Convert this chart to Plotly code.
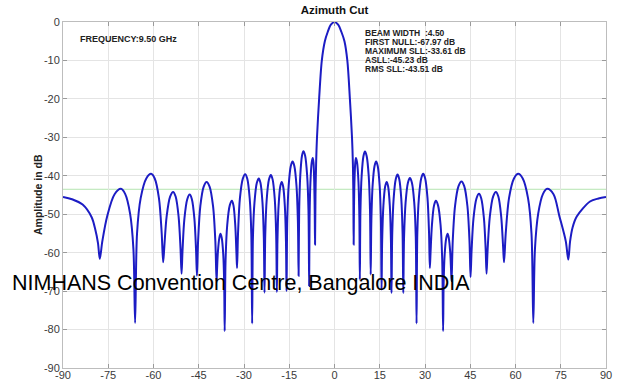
import plotly.graph_objects as go

# ---- data ----
angle_deg = [
    -90, -87, -83.5, -80.5, -79.3, -78.4, -77.8,
    -76.96, -75.35, -72.9, -70.8, -69.4, -67.75, -66.66, -66.1,
    -65.46, -64.25, -62.39, -60.8, -59.6, -58.2, -57.28, -56.8,
    -56.4, -55.65, -54.49, -53.5, -52.66, -51.68, -51.04, -50.7,
    -50.38, -49.76, -48.81, -48.0, -47.28, -46.44, -45.89, -45.6,
    -45.22, -44.48, -43.36, -42.4, -41.41, -40.26, -39.5, -39.1,
    -38.94, -38.65, -38.19, -37.8, -37.38, -36.89, -36.57, -36.4,
    -36.11, -35.56, -34.72, -34.0, -33.49, -32.9, -32.5, -32.3,
    -31.98, -31.36, -30.41, -29.6, -28.91, -28.11, -27.58, -27.3,
    -27.04, -26.53, -25.76, -25.1, -24.53, -23.87, -23.43, -23.2,
    -22.95, -22.47, -21.73, -21.1, -20.5, -19.8, -19.34, -19.1,
    -18.91, -18.54, -17.98, -17.5, -17.02, -16.46, -16.09, -15.9,
    -15.66, -15.2, -14.5, -13.9, -13.3, -12.6, -12.14, -11.9,
    -11.71, -11.34, -10.78, -10.3, -9.73, -9.07, -8.63, -8.4,
    -8.26, -7.98, -7.56, -7.2, -6.96, -6.72, -6.55, -6.45,
    -6.3, -6.1, -5.8, -5.1, -4.2, -3.2, -2.25, -1.2, 0.0,
    1.2, 2.3, 3.3, 4.25, 5.1, 5.8, 6.1, 6.25, 6.35,
    6.44, 6.61, 6.88, 7.1, 7.49, 7.95, 8.24, 8.4,
    8.6, 9.0, 9.59, 10.1, 10.67, 11.34, 11.77, 12.0,
    12.22, 12.63, 13.26, 13.8, 14.34, 14.97, 15.38, 15.6,
    15.8, 16.2, 16.79, 17.3, 17.78, 18.34, 18.71, 18.9,
    19.14, 19.6, 20.3, 20.9, 21.47, 22.14, 22.57, 22.8,
    23.06, 23.57, 24.34, 25.0, 25.66, 26.43, 26.94, 27.2,
    27.46, 27.97, 28.74, 29.4, 30.06, 30.83, 31.34, 31.6,
    31.84, 32.3, 33.0, 33.6, 34.32, 35.16, 35.71, 36.0,
    36.18, 36.53, 37.05, 37.5, 37.89, 38.35, 38.64, 38.8,
    39.2, 39.96, 41.11, 42.1, 43.0, 44.05, 44.74, 45.1,
    45.44, 46.08, 47.06, 47.9, 48.65, 49.53, 50.1, 50.4,
    50.77, 51.49, 52.57, 53.5, 54.31, 55.26, 55.88, 56.2,
    56.76, 57.85, 59.49, 60.9, 62.4, 64.15, 65.3, 65.9,
    66.45, 67.51, 69.12, 70.5, 72.6, 74.55, 76.66, 77.5,
    78.1, 78.9, 80.3, 84.7, 87.5, 90,
]
amplitude_db = [
    -45.5, -46.1, -47.5, -50.8, -54.0, -57.5, -61.6,
    -57.0, -50.5, -44.8, -43.4, -44.7, -49.9, -59.0, -78.3,
    -55.0, -45.8, -40.7, -39.5, -40.7, -45.8, -55.0, -62.5,
    -58.3, -50.6, -45.4, -44.2, -45.4, -50.6, -59.0, -65.5,
    -59.5, -51.2, -46.1, -44.9, -46.1, -51.2, -59.5, -66.0,
    -57.0, -47.9, -42.8, -41.6, -42.8, -47.9, -57.0, -67.4,
    -64.5, -59.8, -56.2, -55.1, -56.2, -60.3, -68.0, -80.4,
    -62.0, -52.8, -47.7, -46.5, -47.7, -52.8, -60.3, -64.0,
    -55.0, -45.9, -40.8, -39.6, -40.8, -45.9, -55.0, -78.4,
    -56.1, -47.0, -41.9, -40.7, -41.9, -47.0, -56.1, -70.4,
    -55.2, -46.1, -41.0, -39.8, -41.0, -46.1, -55.2, -70.2,
    -57.0, -47.9, -42.8, -41.6, -42.8, -47.9, -57.0, -70.0,
    -51.7, -42.6, -37.5, -36.3, -37.5, -42.6, -51.7, -66.0,
    -49.0, -39.9, -34.8, -33.6, -34.8, -39.9, -49.0, -68.7,
    -50.8, -41.7, -36.6, -35.4, -36.6, -41.7, -49.8, -57.9,
    -45.0, -37.0, -30.0, -20.0, -10.0, -5.0, -2.6, -0.7, 0.0,
    -0.7, -2.6, -5.0, -10.0, -20.0, -30.0, -37.0, -45.0, -57.9,
    -49.8, -41.7, -36.6, -35.4, -36.6, -41.7, -50.8, -67.0,
    -49.1, -40.0, -34.9, -33.7, -34.9, -40.0, -49.1, -65.7,
    -51.7, -42.6, -37.5, -36.3, -37.5, -42.6, -51.7, -69.6,
    -57.0, -47.9, -42.8, -41.6, -42.8, -47.9, -57.0, -70.5,
    -55.1, -46.0, -40.9, -39.7, -40.9, -46.0, -55.1, -70.5,
    -56.0, -46.9, -41.8, -40.6, -41.8, -46.9, -56.0, -78.4,
    -54.9, -45.8, -40.7, -39.5, -40.7, -45.8, -54.9, -64.0,
    -60.0, -52.8, -47.7, -46.5, -47.7, -52.8, -62.0, -80.4,
    -68.0, -60.3, -56.2, -55.1, -56.2, -59.8, -64.5, -67.4,
    -56.9, -47.8, -42.7, -41.5, -42.7, -47.8, -56.9, -66.3,
    -59.5, -51.0, -45.9, -44.7, -45.9, -51.0, -59.0, -65.5,
    -59.0, -50.6, -45.4, -44.2, -45.4, -50.6, -58.3, -62.5,
    -55.0, -45.8, -40.7, -39.5, -40.7, -45.8, -55.0, -78.3,
    -59.0, -49.9, -44.7, -43.4, -44.8, -50.5, -57.0, -61.8,
    -57.0, -53.5, -50.6, -46.7, -45.9, -45.5,
]
rms_sll_db = -43.51
x_ticks = [-90, -75, -60, -45, -30, -15, 0, 15, 30, 45, 60, 75, 90]
y_ticks = [0, -10, -20, -30, -40, -50, -60, -70, -80, -90]
info_lines = [
    "BEAM WIDTH\u00a0\u00a0:4.50",
    "FIRST NULL:-67.97 dB",
    "MAXIMUM SLL:-33.61 dB",
    "ASLL:-45.23 dB",
    "RMS SLL:-43.51 dB",
]

W, H = 621, 382
ML, MR, MT, MB = 63, 15, 22, 14
PW, PH = W - ML - MR, H - MT - MB
FONT = "Liberation Sans, Arial, sans-serif"


def px_x(px):
    return (px - ML) / PW


def px_y(py):
    return (H - MB - py) / PH


fig = go.Figure()
fig.add_trace(go.Scatter(
    x=angle_deg, y=amplitude_db, mode="lines",
    line=dict(color="#1c1cc4", width=2, shape="spline", smoothing=0.9),
    showlegend=False, hoverinfo="skip",
))

fig.add_shape(type="line", xref="paper", yref="y", x0=0, x1=1,
              y0=rms_sll_db, y1=rms_sll_db,
              line=dict(color="#b4e4b0", width=1), layer="below")

axis_common = dict(
    showgrid=True, gridcolor="#e4e4e4", gridwidth=1,
    showline=True, linecolor="#bdbdbd", linewidth=1, mirror="allticks",
    ticks="inside", ticklen=4, tickcolor="#9a9a9a",
    tickfont=dict(family=FONT, size=11, color="#3a3a3a"),
    zeroline=False, automargin=False,
)
fig.update_xaxes(range=[-90, 90], tickvals=x_ticks, ticklabelstandoff=-3,
                 ticktext=[str(v) for v in x_ticks], **axis_common)
fig.update_yaxes(range=[-90, 0], tickvals=y_ticks,
                 ticktext=[str(v) for v in y_ticks], **axis_common)

annotations = [
    dict(text="<b>FREQUENCY:9.50 GHz</b>", x=px_x(78), y=px_y(39),
         xanchor="left", yanchor="middle",
         font=dict(size=9, color="#222222")),
    dict(text="<b>Amplitude in dB</b>", x=px_x(38), y=px_y(195), textangle=-90,
         xanchor="center", yanchor="middle",
         font=dict(size=10.5, color="#222222")),
    dict(text="NIMHANS Convention Centre, Bangalore INDIA", x=px_x(10), y=px_y(283),
         xanchor="left", yanchor="middle",
         font=dict(size=21.5, color="#000000")),
]
line_y = [33.3, 41.9, 50.7, 60.0, 69.3]
for t, yy in zip(info_lines, line_y):
    annotations.append(dict(text="<b>" + t + "</b>", x=px_x(364), y=px_y(yy),
                            xanchor="left", yanchor="middle", borderpad=0,
                            font=dict(size=8.5, color="#222222")))
for a in annotations:
    a.update(xref="paper", yref="paper", showarrow=False)
    a["font"]["family"] = FONT

fig.update_layout(
    width=W, height=H,
    margin=dict(l=ML, r=MR, t=MT, b=MB, autoexpand=False),
    paper_bgcolor="white", plot_bgcolor="white",
    title=dict(text="<b>Azimuth Cut</b>", x=0.5, xref="paper",
               y=1 - 10 / H, yref="container", yanchor="middle", xanchor="center",
               font=dict(family=FONT, size=11.5, color="#111111")),
    annotations=annotations,
)

fig.write_html("out.html")
